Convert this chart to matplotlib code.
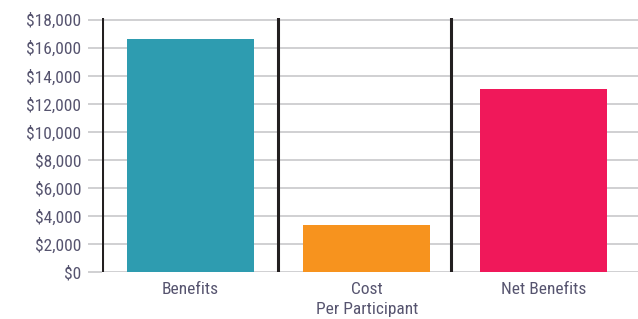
import matplotlib
matplotlib.use("Agg")
import matplotlib.pyplot as plt
from matplotlib import font_manager

categories = ["Benefits", "Cost\nPer Participant", "Net Benefits"]
values = [16630, 3340, 13050]
colors = ["#2e9cb0", "#f7931e", "#f0185a"]
yticks = [0, 2000, 4000, 6000, 8000, 10000, 12000, 14000, 16000, 18000]
ytick_labels = ["$0", "$2,000", "$4,000", "$6,000", "$8,000", "$10,000",
                "$12,000", "$14,000", "$16,000", "$18,000"]
separators = [-0.5, 0.497, 1.478]

names = {f.name for f in font_manager.fontManager.ttflist}
fam = [n for n in ["Roboto Condensed", "Roboto", "DejaVu Sans"] if n in names]
plt.rcParams['font.family'] = fam

fig = plt.figure(figsize=(6.38, 3.19), dpi=100)
ax = fig.add_axes([102/638, 47/319, 536/638, 254/319])

x = list(range(len(categories)))
ax.bar(x, values, width=0.72, color=colors, zorder=3)

ax.set_xlim(-0.5, -0.5 + 536/176.5)
ax.set_ylim(0, 18120)
ax.set_yticks(yticks)
ax.set_yticklabels(ytick_labels)
ax.set_xticks(x)
ax.set_xticklabels(categories, linespacing=1.45)

ax.grid(axis='y', color='#c4c4c6', linewidth=1.1, zorder=0)
ax.set_axisbelow(True)
for s in ax.spines.values():
    s.set_visible(False)
for xv in separators:
    ax.axvline(xv, color='#231f20', linewidth=2.2, zorder=4)

ax.tick_params(axis='y', length=10, width=1.1, color='#c4c4c6', pad=5,
               labelsize=12.5, labelcolor='#56546f')
ax.tick_params(axis='x', length=0, pad=7, labelsize=12.5, labelcolor='#56546f')

fig.savefig("out.png", dpi=100)
